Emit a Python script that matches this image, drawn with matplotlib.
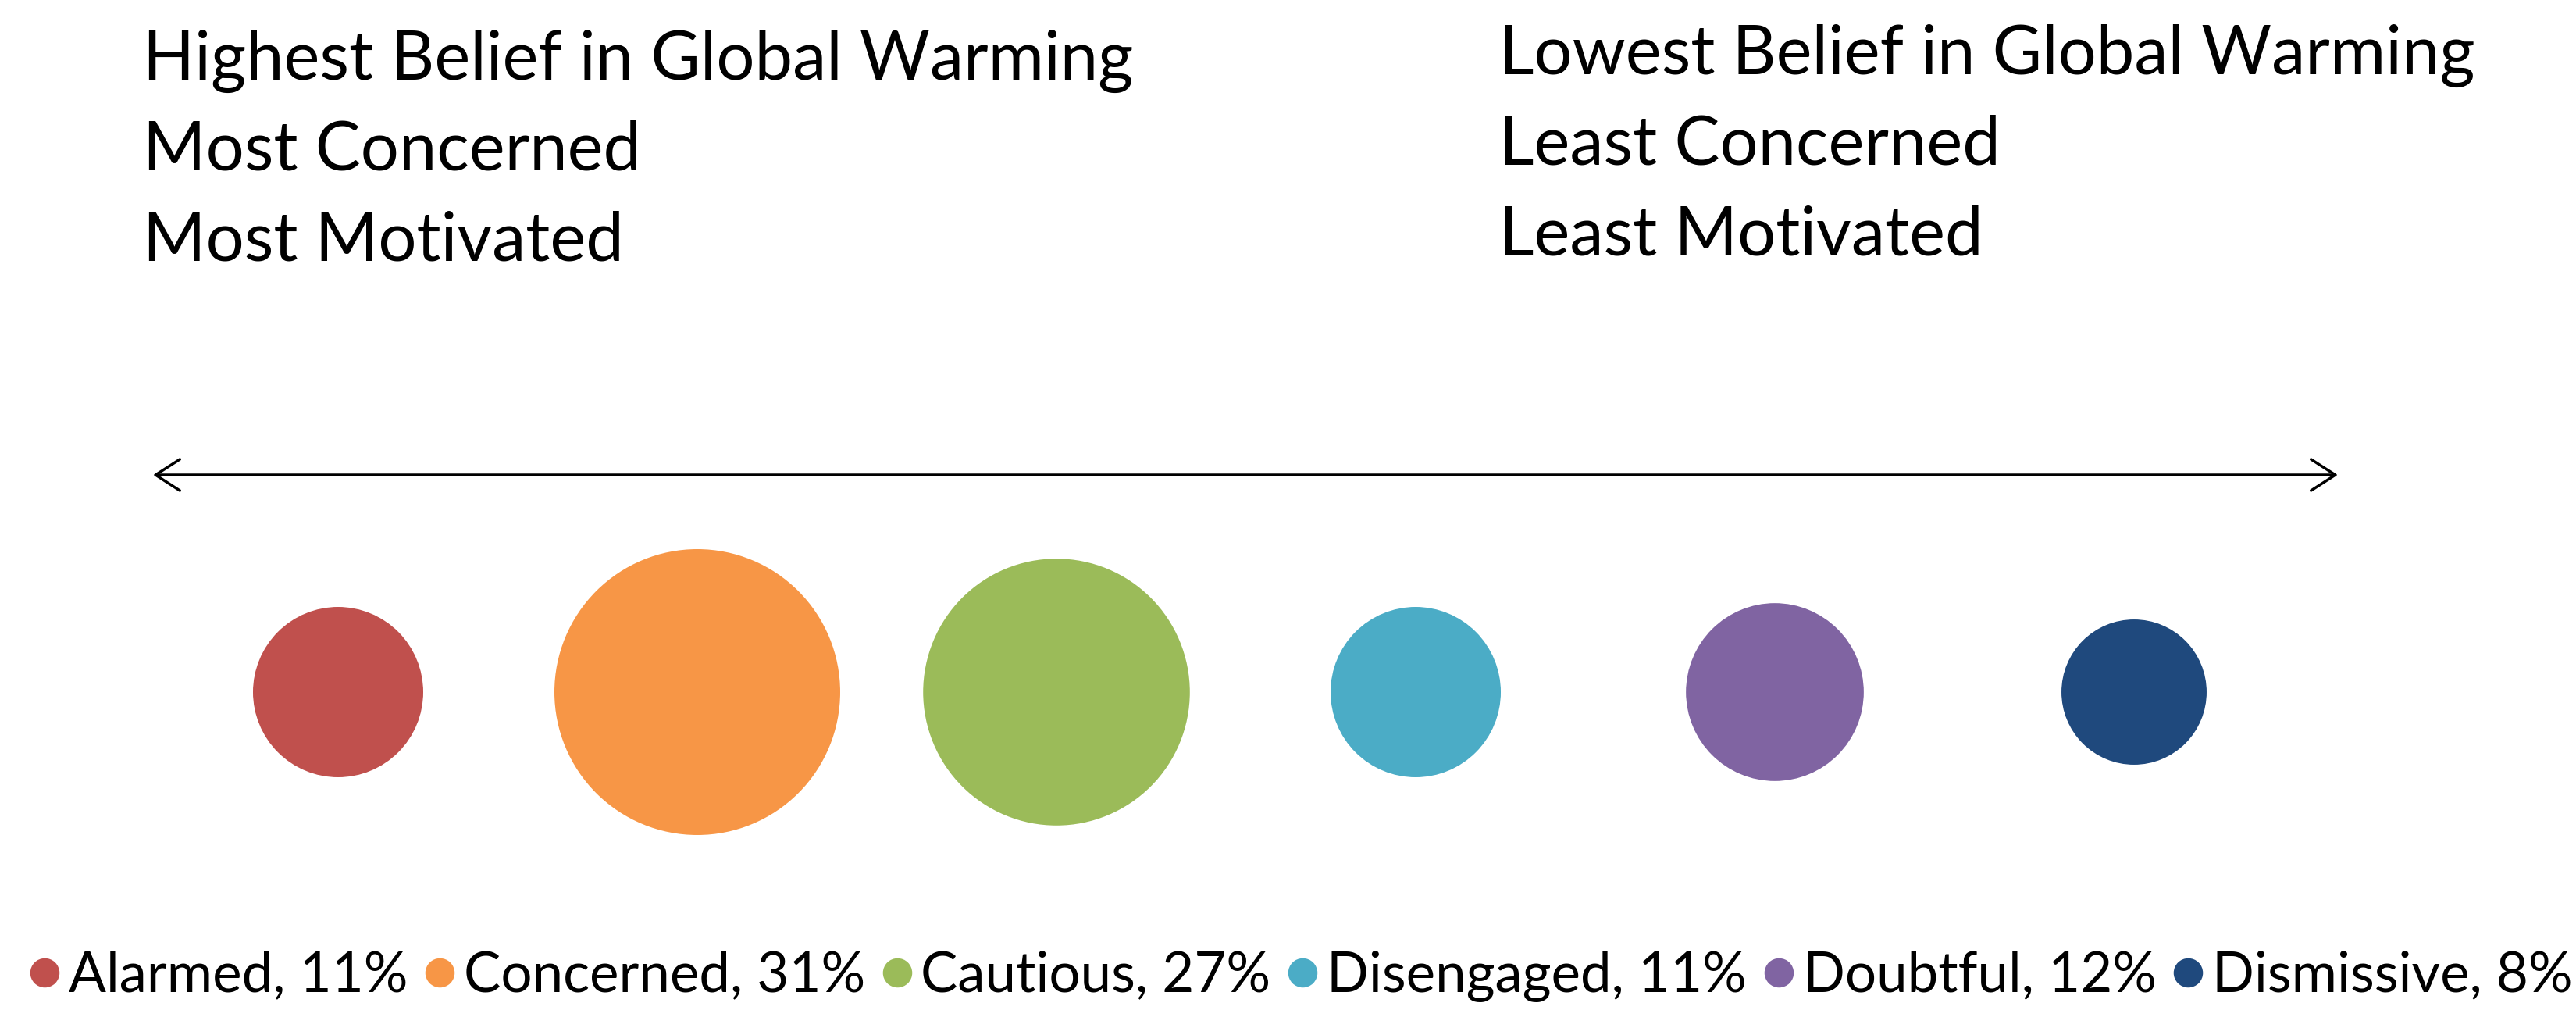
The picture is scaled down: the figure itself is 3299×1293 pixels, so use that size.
import numpy as np
import matplotlib.pyplot as plt
from matplotlib.lines import Line2D

plt.rcParams['font.family'] = ['Lato', 'DejaVu Sans']

# segments of the audience (share in %)
segments = ["Alarmed", "Concerned", "Cautious", "Disengaged", "Doubtful", "Dismissive"]
shares = [11, 31, 27, 11, 12, 8]
colors = ["#C0504D", "#F79646", "#9BBB59", "#4BACC6", "#8064A2", "#1F497D"]

left_lines = ["Highest Belief in Global Warming", "Most Concerned", "Most Motivated"]
right_lines = ["Lowest Belief in Global Warming", "Least Concerned", "Least Motivated"]

W, H = 3299, 1293
fig = plt.figure(figsize=(W / 100, H / 100), dpi=100)
ax = fig.add_axes([0, 0, 1, 1])
ax.axis('off')

# bubbles: area proportional to share
x = np.arange(len(segments))
ax.scatter(x, np.zeros(len(x)), s=np.array(shares) * 2240, c=colors, linewidths=0)
ax.set_xlim(-433 / 460, (W - 433) / 460)
ax.set_ylim(-407 / H, 886 / H)

# double arrow
ay = 1 - 608 / H
ax.annotate('', xy=(2994 / W, ay), xytext=(196 / W, ay),
            xycoords='figure fraction', textcoords='figure fraction',
            arrowprops=dict(arrowstyle='<->, head_length=1.4, head_width=0.9',
                            lw=2.5, color='black', mutation_scale=16,
                            shrinkA=0, shrinkB=0))

# header text blocks
for i, line in enumerate(left_lines):
    fig.text(183 / W, 1 - (102 + 115.5 * i) / H, line, fontsize=62.5,
             va='baseline', ha='left', color='black')
for i, line in enumerate(right_lines):
    fig.text(1920 / W, 1 - (95 + 115.5 * i) / H, line, fontsize=62.5,
             va='baseline', ha='left', color='black')

# legend
handles = [Line2D([], [], marker='o', linestyle='none', markersize=27,
                  markerfacecolor=c, markeredgewidth=0) for c in colors]
labels = [f"{s}, {v}%" for s, v in zip(segments, shares)]
fig.legend(handles, labels, loc='lower center', bbox_to_anchor=(0.505, 0.008),
           ncol=6, frameon=False, fontsize=51, handlelength=0.55,
           handletextpad=0.16, columnspacing=0.3, borderpad=0, borderaxespad=0)

fig.savefig("out.png", dpi=100, facecolor='white')
